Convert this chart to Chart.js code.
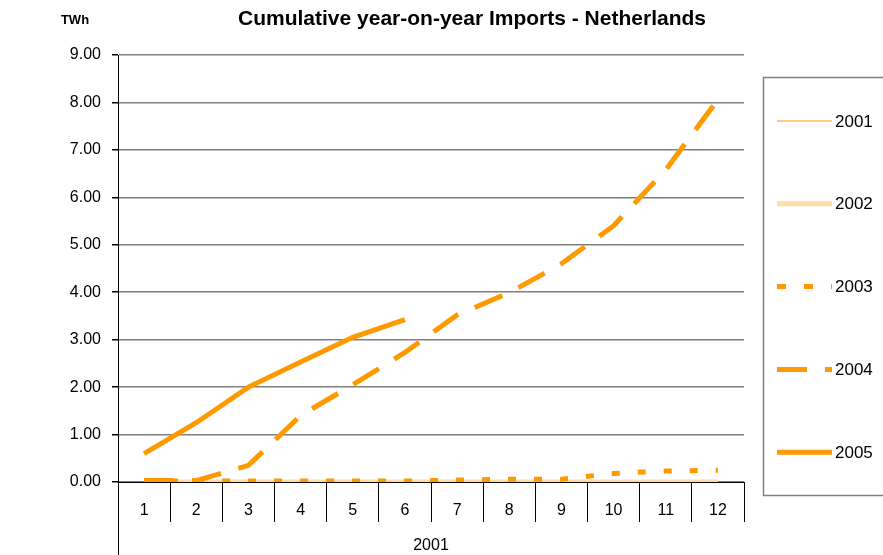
<!DOCTYPE html>
<html>
<head>
<meta charset="utf-8">
<script src="https://cdn.jsdelivr.net/npm/chart.js@4"></script>
<style>
  html, body { margin: 0; padding: 0; background: #fff; }
  #wrap { width: 883px; height: 555px; }
</style>
</head>
<body>
<div id="wrap"><canvas id="importsChart" width="883" height="555"></canvas></div>
<script>
const months = ['1', '2', '3', '4', '5', '6', '7', '8', '9', '10', '11', '12']
const yearLabel = '2001'
const yTicks = [0, 1, 2, 3, 4, 5, 6, 7, 8, 9]

const imports2001 = [0, 0, 0, 0, 0, 0, 0, 0, 0, 0, 0, 0]
const imports2002 = [0, 0, 0, 0, 0, 0, 0, 0, 0, 0, 0, 0]
const imports2003 = [0.02, 0.02, 0.02, 0.02, 0.02, 0.02, 0.04, 0.06, 0.06, 0.18, 0.23, 0.25]
const imports2004 = [0.03, 0.03, 0.35, 1.4, 2.05, 2.73, 3.52, 3.99, 4.6, 5.4, 6.58, 8.06]
const imports2005 = [0.6, 1.25, 2.0, 2.53, 3.05, 3.42, null, null, null, null, null, null]

const ORANGE = '#ff9900'
const PEACH = '#ffdcaa'
const FONT = "'Liberation Sans', Arial, sans-serif"

// legend entries: label, colour, width, dash used for the sample line
const legendItems = [
  { text: '2001', color: ORANGE, width: 1, dash: [] },
  { text: '2002', color: PEACH, width: 5, dash: [] },
  { text: '2003', color: ORANGE, width: 5, dash: [9, 18] },
  { text: '2004', color: ORANGE, width: 5, dash: [30, 18] },
  { text: '2005', color: ORANGE, width: 5, dash: [] }
]

const decorations = {
  id: 'decorations',
  afterDraw(chart) {
    const ctx = chart.ctx
    const area = chart.chartArea
    ctx.save()

    // title and unit
    ctx.fillStyle = '#000'
    ctx.textBaseline = 'middle'
    ctx.textAlign = 'center'
    ctx.font = 'bold 21px ' + FONT
    ctx.fillText('Cumulative year-on-year Imports - Netherlands', 472, 19)
    ctx.font = 'bold 13px ' + FONT
    ctx.fillText('TWh', 75, 20)

    // outer category group line on the left
    ctx.strokeStyle = '#000'
    ctx.lineWidth = 1
    ctx.beginPath()
    ctx.moveTo(Math.round(area.left) + 0.5, area.bottom)
    ctx.lineTo(Math.round(area.left) + 0.5, chart.height)
    ctx.stroke()

    // legend box
    ctx.strokeStyle = '#808080'
    ctx.lineWidth = 1.5
    ctx.strokeRect(763.5, 77.5, 200, 418)

    ctx.font = '17px ' + FONT
    ctx.textAlign = 'left'
    legendItems.forEach((item, i) => {
      const y = 121 + i * 82.8
      ctx.strokeStyle = item.color
      ctx.lineWidth = item.width
      ctx.setLineDash(item.dash)
      ctx.beginPath()
      ctx.moveTo(777, y)
      ctx.lineTo(832, y)
      ctx.stroke()
      ctx.setLineDash([])
      ctx.fillStyle = '#000'
      ctx.fillText(item.text, 835, y + 1)
    })
    ctx.restore()
  }
}

const chart = new Chart(document.getElementById('importsChart'), {
  type: 'line',
  data: {
    labels: months,
    datasets: [
      { label: '2001', data: imports2001, borderColor: ORANGE, borderWidth: 1, order: 5 },
      { label: '2002', data: imports2002, borderColor: PEACH, borderWidth: 5, order: 4 },
      { label: '2003', data: imports2003, borderColor: ORANGE, borderWidth: 5, borderDash: [8, 18], order: 3 },
      { label: '2004', data: imports2004, borderColor: ORANGE, borderWidth: 5, borderDash: [30, 18], order: 2 },
      { label: '2005', data: imports2005, borderColor: ORANGE, borderWidth: 5, order: 1 }
    ]
  },
  options: {
    responsive: false,
    animation: false,
    layout: { padding: { top: 55, right: 139, left: 0, bottom: 0 } },
    elements: {
      point: { radius: 0, hoverRadius: 0 },
      line: { tension: 0, fill: false, borderCapStyle: 'butt' }
    },
    plugins: {
      legend: { display: false },
      title: { display: false },
      tooltip: { enabled: false }
    },
    scales: {
      x: {
        offset: true,
        grid: {
          offset: true,
          drawOnChartArea: false,
          tickLength: 40,
          color: '#000',
          tickColor: '#000'
        },
        border: { color: '#000', width: 1 },
        ticks: {
          color: '#000',
          font: { family: FONT, size: 16 },
          padding: -21,
          maxRotation: 0
        },
        title: {
          display: true,
          text: yearLabel,
          color: '#000',
          font: { family: FONT, size: 16 },
          padding: { top: 0, bottom: 0 }
        },
        afterFit(scale) { scale.height = 73 }
      },
      y: {
        min: 0,
        max: 9,
        afterBuildTicks(scale) { scale.ticks = yTicks.map(v => ({ value: v })) },
        afterFit(scale) { scale.width = 118 },
        grid: {
          color: '#808080',
          lineWidth: 1.5,
          tickLength: 6,
          tickColor: '#000'
        },
        border: { color: '#000', width: 1 },
        ticks: {
          color: '#000',
          font: { family: FONT, size: 16 },
          padding: 11,
          callback: v => Number(v).toFixed(2)
        }
      }
    }
  },
  plugins: [decorations]
})
</script>
</body>
</html>
